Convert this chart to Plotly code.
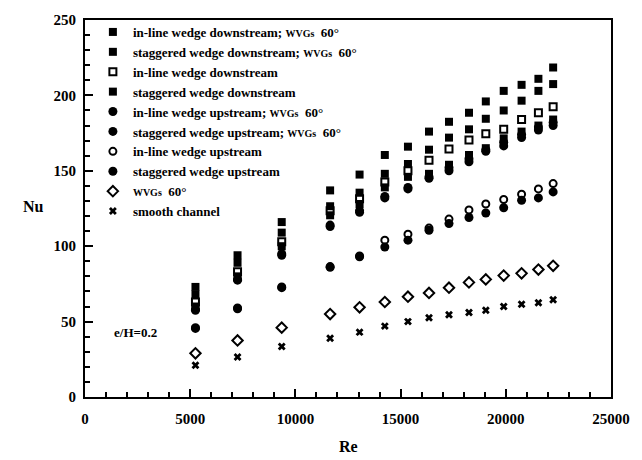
import plotly.graph_objects as go

# Reynolds numbers of the measurement stations
re_values = [5250, 7250, 9350, 11650, 13050, 14250, 15350, 16350, 17300,
             18250, 19050, 19900, 20750, 21550, 22250]

# Nusselt numbers for each configuration
nu_inline_down_wvg = [73, 94, 116, 137, 147.5, 160.5, 166, 176, 182.5, 188.5, 196, 203, 207, 211, 218.5]
nu_stag_down_wvg = [68, 89, 109, 126.5, 135.5, 148, 154.5, 164, 172, 177.5, 184.5, 190, 196.5, 203, 207.5]
nu_inline_down = [63, 83, 103, 123.5, 131.5, 142.5, 150, 157, 164.5, 170.5, 174.5, 177.5, 184, 188.5, 192.5]
nu_stag_down = [60, 80, 100, 120.5, 128, 139, 146, 148, 154, 160.5, 165, 171.5, 176, 180, 184]
nu_inline_up_wvg = [58, 78, 95, 114, 123.5, 133, 139, 146, 152, 158, 164, 169, 174, 179, 182]
nu_stag_up_wvg = [57.5, 77.5, 94, 113, 122.5, 132, 138, 145, 150, 156, 163, 166.5, 172, 177, 180]
nu_inline_up = [46, 59, 73, 86.5, 93.5, 104, 108, 112, 118, 124, 128, 131, 134.5, 138, 141.5]
nu_stag_up = [45.5, 58.5, 72.5, 86, 93, 99.5, 104, 110.5, 115, 119, 122, 125.5, 130.5, 132, 136]
nu_wvg_only = [29, 37.5, 46, 55, 59.5, 63, 66.5, 69, 72.5, 76, 78, 80.5, 82, 84.5, 87]
nu_smooth = [21, 26.5, 33.5, 39, 43, 47, 50, 52.5, 54.5, 56, 57.5, 60, 61.5, 62.5, 64.5]

WVG = "<span style='font-size:10px'>WVGs</span>"
series_names = [
    f"in-line wedge downstream; {WVG}  60°",
    f"staggered wedge downstream; {WVG}  60°",
    "in-line wedge downstream",
    "staggered wedge downstream",
    f"in-line wedge upstream; {WVG}  60°",
    f"staggered wedge upstream; {WVG}  60°",
    "in-line wedge upstream",
    "staggered wedge upstream",
    f"{WVG}  60°",
    "smooth channel",
]
series_values = [nu_inline_down_wvg, nu_stag_down_wvg, nu_inline_down, nu_stag_down,
                 nu_inline_up_wvg, nu_stag_up_wvg, nu_inline_up, nu_stag_up,
                 nu_wvg_only, nu_smooth]
series_symbols = ["square", "square", "square-open", "square",
                  "circle", "circle", "circle-open", "circle",
                  "diamond-open", "x"]
series_sizes = [8, 8, 7, 8, 9, 9, 7, 9, 8, 7]

x_ticks = [0, 5000, 10000, 15000, 20000, 25000]
x_tick_labels = ["0", "5000", "10000", "15000", "20000", "25000"]
y_ticks = [0, 50, 100, 150, 200, 250]
y_tick_labels = ["0", "50", "100", "150", "200", "250"]

SERIF = "Liberation Serif"

fig = go.Figure()
for name, vals, sym, size in zip(series_names, series_values, series_symbols, series_sizes):
    is_open = sym.endswith("-open")
    fig.add_trace(go.Scatter(
        x=re_values, y=vals, mode="markers", name=name,
        marker=dict(symbol=sym, size=size, color="black",
                    line=dict(color="black", width=2 if is_open else 0)),
    ))

fig.add_annotation(x=2400, y=43, xref="x", yref="y", text="<b>e/H=0.2</b>",
                   xanchor="center", yanchor="middle", showarrow=False,
                   font=dict(family=SERIF, size=13, color="black"))
fig.add_annotation(x=-0.097, y=0.505, xref="paper", yref="paper", text="<b>Nu</b>",
                   xanchor="center", yanchor="middle", showarrow=False,
                   font=dict(family=SERIF, size=16, color="black"))
fig.add_annotation(x=0.5, y=-0.132, xref="paper", yref="paper", text="<b>Re</b>",
                   xanchor="center", yanchor="middle", showarrow=False,
                   font=dict(family=SERIF, size=16, color="black"))

axis_common = dict(
    showgrid=False, zeroline=False, showline=True, linecolor="black", linewidth=2,
    mirror=True, ticks="inside", ticklen=8, tickwidth=1.5, tickcolor="black",
    tickfont=dict(family=SERIF, size=15, color="black", weight="bold"),
)
fig.update_xaxes(range=[0, 25000], tickvals=x_ticks, ticktext=x_tick_labels,
                 ticklabelstandoff=7,
                 minor=dict(dtick=1000, ticks="inside", ticklen=5, tickwidth=1.5, tickcolor="black"),
                 **axis_common)
fig.update_yaxes(range=[0, 250], tickvals=y_ticks, ticktext=y_tick_labels,
                 ticklabelstandoff=4,
                 minor=dict(dtick=10, ticks="inside", ticklen=5, tickwidth=1.5, tickcolor="black"),
                 **axis_common)

fig.update_layout(
    width=642, height=460,
    margin=dict(l=85, r=23, t=17, b=63),
    paper_bgcolor="white", plot_bgcolor="white",
    showlegend=True,
    legend=dict(x=0.015, y=1.008, xanchor="left", yanchor="top",
                bgcolor="rgba(0,0,0,0)", borderwidth=0,
                font=dict(family=SERIF, size=13, color="black", weight="bold")),
)

fig.write_html("out.html")
